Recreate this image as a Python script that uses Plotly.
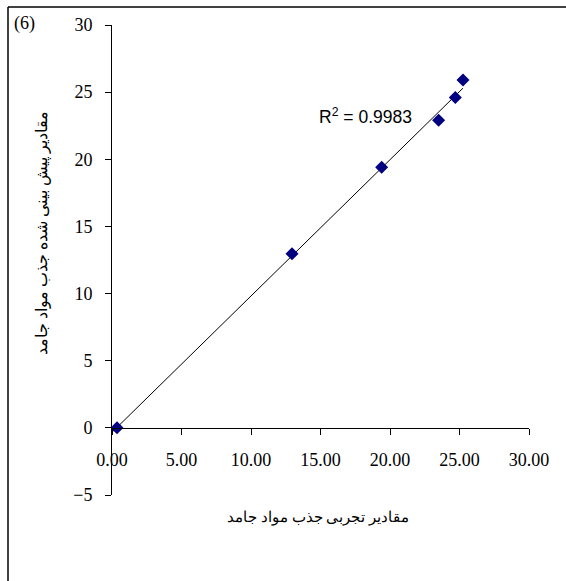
import plotly.graph_objects as go
import numpy as np

# Data
experimental = [0.36, 12.95, 19.4, 23.5, 24.7, 25.25]
predicted = [0.0, 12.96, 19.4, 22.9, 24.6, 25.9]
x_ticks = [0, 5, 10, 15, 20, 25, 30]
y_ticks = [-5, 0, 5, 10, 15, 20, 25, 30]
r2_label = "R<sup>2</sup> = 0.9983"
x_title = "مقادیر تجربی جذب مواد جامد"
y_title = "مقادیر پیش بینی شده جذب مواد جامد"
panel_label = "(6)"

W, H = 566, 581
L, R, T, B = 112, 37, 25, 86
pw, ph = W - L - R, H - T - B

def px_x(p):
    return (p - L) / pw

def px_y(p):
    return 1 - (p - T) / ph

# linear trendline fitted to the data
xs = np.array(experimental)
ys = np.array(predicted)
slope, intercept = np.polyfit(xs, ys, 1)
tx = np.array([0.0, xs.max()])
ty = slope * tx + intercept

fig = go.Figure()
fig.add_trace(go.Scatter(x=tx, y=ty, mode="lines",
                         line=dict(color="black", width=1), showlegend=False,
                         hoverinfo="skip"))
fig.add_trace(go.Scatter(x=experimental, y=predicted, mode="markers",
                         marker=dict(symbol="diamond", color="#000080", size=10,
                                     line=dict(width=0)),
                         showlegend=False))

serif = "Times New Roman, Liberation Serif, DejaVu Serif, serif"

fig.update_layout(
    width=W, height=H,
    margin=dict(l=L, r=R, t=T, b=B),
    paper_bgcolor="white", plot_bgcolor="white",
    font=dict(family=serif, size=18, color="black"),
    xaxis=dict(range=[0, 30], tickvals=x_ticks, tickformat=".2f",
               showgrid=False, zeroline=False, showline=True,
               linecolor="black", linewidth=1,
               ticks="outside", ticklen=6, tickcolor="black", tickwidth=1,
               anchor="free", position=5 / 35,
               ticklabelstandoff=10,
               tickfont=dict(family=serif, size=18, color="black")),
    yaxis=dict(range=[-5, 30], tickvals=y_ticks,
               showgrid=False, zeroline=False, showline=True,
               linecolor="black", linewidth=1,
               ticks="outside", ticklen=6, tickcolor="black", tickwidth=1,
               ticklabelstandoff=9,
               tickfont=dict(family=serif, size=18, color="black")),
)

annotations = [
    dict(text=r2_label, xref="x", yref="y", x=14.75, y=23.2, xanchor="left",
         yanchor="middle", showarrow=False,
         font=dict(family="Arial, Liberation Sans, sans-serif", size=17.5, color="black")),
    dict(text=x_title, xref="paper", yref="paper", x=px_x(318), y=px_y(517),
         xanchor="center", yanchor="middle", showarrow=False,
         font=dict(family=serif, size=15, color="black")),
    dict(text=y_title, xref="paper", yref="paper", x=px_x(42), y=px_y(233),
         xanchor="center", yanchor="middle", textangle=-90, showarrow=False,
         font=dict(family=serif, size=16, color="black")),
    dict(text=panel_label, xref="paper", yref="paper", x=px_x(12), y=px_y(24),
         xanchor="left", yanchor="middle", showarrow=False,
         font=dict(family=serif, size=18, color="black")),
]
fig.update_layout(annotations=annotations)

fig.add_shape(type="line", xref="paper", yref="paper",
              x0=px_x(8), x1=px_x(W + 2), y0=px_y(7), y1=px_y(7),
              line=dict(color="black", width=1.5))
fig.add_shape(type="line", xref="paper", yref="paper",
              x0=px_x(8), x1=px_x(8), y0=px_y(7), y1=px_y(H + 2),
              line=dict(color="black", width=1.5))

fig.write_html("out.html")
